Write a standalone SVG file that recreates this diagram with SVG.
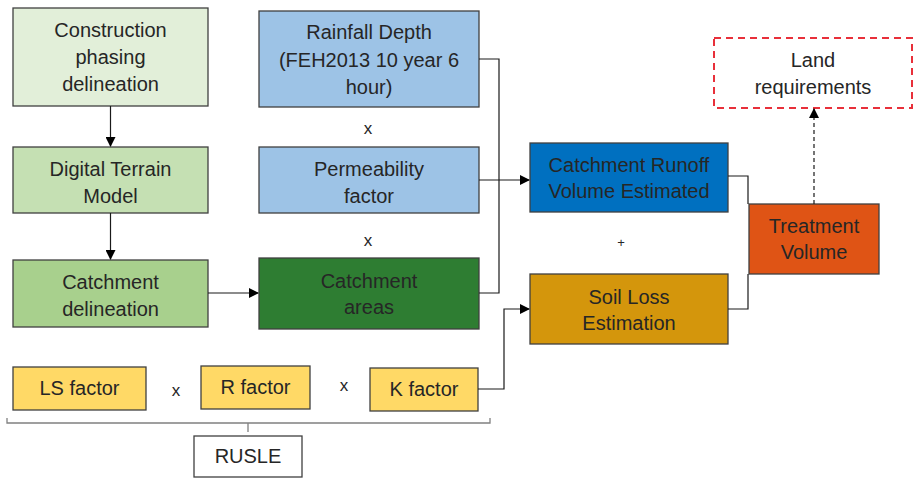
<svg xmlns="http://www.w3.org/2000/svg" width="914" height="478" viewBox="0 0 914 478">
<defs>
<marker id="ah" markerWidth="10" markerHeight="10" refX="9" refY="5" orient="auto" markerUnits="userSpaceOnUse">
<path d="M0,0 L10,5 L0,10 Z" fill="#000"/>
</marker>
<style>
.b{stroke:#404040;stroke-width:1.3}
.t{font-family:"Liberation Sans",Arial,sans-serif;font-size:20px;fill:#262626;text-anchor:middle}
.x{font-size:17px}
.c{fill:none;stroke:#1a1a1a;stroke-width:1.2}
</style>
</defs>
<rect width="914" height="478" fill="#fff"/>
<g id="construction"><rect class="b" x="13" y="8" width="195" height="98" fill="#e2efd9"/>
<text class="t" x="110.5" y="37">Construction</text><text class="t" x="110.5" y="64">phasing</text><text class="t" x="110.5" y="91">delineation</text></g>
<g id="dtm"><rect class="b" x="13" y="147" width="195" height="66" fill="#c5e0b3"/>
<text class="t" x="110.5" y="176">Digital Terrain</text><text class="t" x="110.5" y="203">Model</text></g>
<g id="catchdel"><rect class="b" x="13" y="260" width="195" height="67" fill="#a8d08d"/>
<text class="t" x="110.5" y="289">Catchment</text><text class="t" x="110.5" y="316">delineation</text></g>
<g id="rainfall"><rect class="b" x="259" y="11" width="220" height="96" fill="#9dc3e6"/>
<text class="t" x="369" y="39">Rainfall Depth</text><text class="t" x="369" y="67">(FEH2013 10 year 6</text><text class="t" x="369" y="94">hour)</text></g>
<text class="t x" x="368" y="134">x</text>
<g id="perm"><rect class="b" x="259" y="147" width="220" height="66" fill="#9dc3e6"/>
<text class="t" x="369" y="176">Permeability</text><text class="t" x="369" y="203">factor</text></g>
<text class="t x" x="368" y="246">x</text>
<g id="catchareas"><rect class="b" x="259" y="258" width="220" height="71" fill="#2e7d32"/>
<text class="t" x="369" y="288">Catchment</text><text class="t" x="369" y="314">areas</text></g>
<g id="runoff"><rect class="b" x="530" y="143" width="198" height="69" fill="#0070c0"/>
<text class="t" x="629" y="172">Catchment Runoff</text><text class="t" x="629" y="198">Volume Estimated</text></g>
<text class="t" x="621" y="247" style="font-size:13px">+</text>
<g id="soil"><rect class="b" x="530" y="274" width="198" height="70" fill="#d4960c"/>
<text class="t" x="629" y="304">Soil Loss</text><text class="t" x="629" y="330">Estimation</text></g>
<g id="treatment"><rect class="b" x="749" y="204" width="130" height="70" fill="#df5415"/>
<text class="t" x="814" y="233">Treatment</text><text class="t" x="814" y="259">Volume</text></g>
<g id="land"><rect x="714" y="38" width="198" height="70" fill="#fff" stroke="#e8303a" stroke-width="2" stroke-dasharray="7,5"/>
<text class="t" x="813" y="67">Land</text><text class="t" x="813" y="94">requirements</text></g>
<g id="ls"><rect class="b" x="13" y="367" width="133" height="43" fill="#ffd966"/><text class="t" x="79.5" y="395">LS factor</text></g>
<text class="t x" x="176" y="396">x</text>
<g id="r"><rect class="b" x="201" y="366" width="109" height="43" fill="#ffd966"/><text class="t" x="255.5" y="394">R factor</text></g>
<text class="t x" x="344" y="391">x</text>
<g id="k"><rect class="b" x="370" y="368" width="108" height="43" fill="#ffd966"/><text class="t" x="424" y="396">K factor</text></g>
<g id="rusle"><rect x="194" y="436" width="108" height="41" fill="#fff" stroke="#404040" stroke-width="1.3"/><text class="t" x="248" y="463">RUSLE</text></g>
<g id="connectors">
<line class="c" x1="110.5" y1="106" x2="110.5" y2="146" marker-end="url(#ah)"/>
<line class="c" x1="110.5" y1="213" x2="110.5" y2="259" marker-end="url(#ah)"/>
<line class="c" x1="208" y1="293" x2="258" y2="293" marker-end="url(#ah)"/>
<polyline class="c" points="479,59 499,59 499,293 479,293"/>
<line class="c" x1="479" y1="180" x2="529" y2="180" marker-end="url(#ah)"/>
<polyline class="c" points="478,389 504,389 504,309 529,309" marker-end="url(#ah)"/>
<polyline class="c" points="728,176 748,176 748,204"/>
<polyline class="c" points="728,309 748,309 748,274"/>
<line class="c" x1="814" y1="204" x2="814" y2="109" stroke-dasharray="4,3" marker-end="url(#ah)"/>
<path d="M7,418 L7,423 L490,423 L490,418 M248,423 L248,432" fill="none" stroke="#808080" stroke-width="1.3"/>
</g>
</svg>
